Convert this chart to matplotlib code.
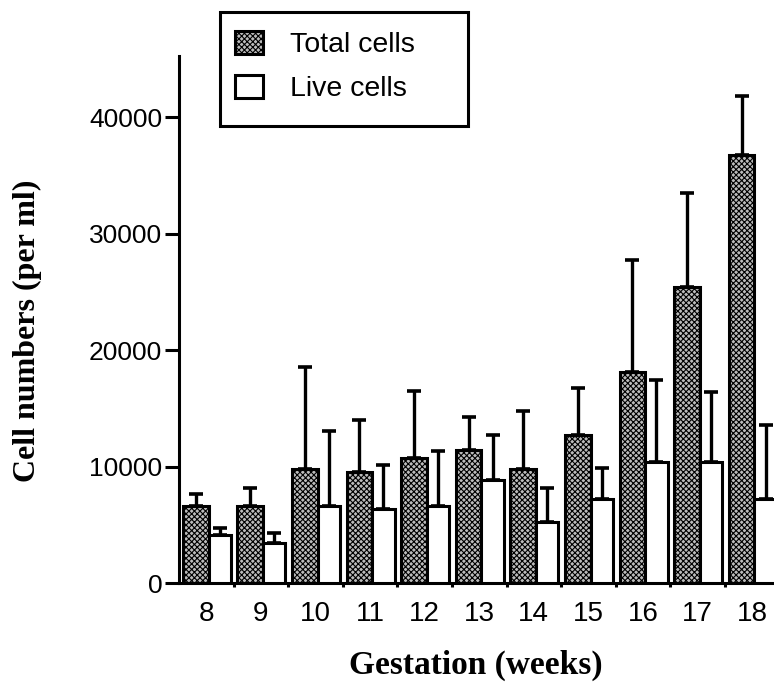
import numpy as np
import matplotlib.pyplot as plt
import matplotlib.patches as patches

# ---Data--- #
weeks = ['8', '9', '10', '11', '12', '13', '14', '15', '16', '17', '18']
total_cells = [6620, 6620, 9780, 9540, 10700, 11410, 9770, 12730, 18150, 25460, 36780]
total_err = [1070, 1550, 8740, 4450, 5810, 2810, 4980, 4000, 9590, 8060, 5030]
live_cells = [4130, 3410, 6620, 6340, 6620, 8880, 5270, 7250, 10420, 10420, 7200]
live_err = [600, 890, 6450, 3840, 4730, 3850, 2870, 2670, 6990, 6010, 6360]

plt.rcParams['hatch.linewidth'] = 0.8
sans = ['Liberation Sans', 'DejaVu Sans']
serif = ['Liberation Serif', 'DejaVu Serif']

# ---Plot--- #
fig = plt.figure(figsize=(7.74, 6.89), dpi=100)
ax = fig.add_axes([0.2313, 0.1538, 0.7687, 0.7654])

x = np.arange(len(weeks))
lw = 2.2
b1 = ax.bar(x - 0.43, total_cells, width=0.47, align='edge', facecolor='#bcbcbc',
            edgecolor='black', linewidth=lw, hatch='xxxxxx', label='Total cells', zorder=3)
b2 = ax.bar(x + 0.04, live_cells, width=0.41, align='edge', facecolor='white',
            edgecolor='black', linewidth=lw, label='Live cells', zorder=3)

# only the upper half of each error bar is drawn
zeros = np.zeros(len(weeks))
ax.errorbar(x - 0.43 + 0.235, total_cells, yerr=[zeros, total_err], fmt='none',
            ecolor='black', elinewidth=2.4, capsize=5, capthick=2.6, zorder=2)
ax.errorbar(x + 0.04 + 0.205, live_cells, yerr=[zeros, live_err], fmt='none',
            ecolor='black', elinewidth=2.4, capsize=5, capthick=2.6, zorder=2)

ax.set_xlim(-0.5, 10.40)
ax.set_ylim(0, 45300)
ax.spines['top'].set_visible(False)
ax.spines['right'].set_visible(False)
ax.spines['left'].set_linewidth(lw)
ax.spines['bottom'].set_linewidth(lw)

ax.set_yticks([0, 10000, 20000, 30000, 40000])
ax.set_yticklabels(['0', '10000', '20000', '30000', '40000'], family=sans, fontsize=19)
ax.tick_params(axis='y', direction='out', length=10, width=lw, pad=2)

ax.set_xticks(x)
ax.set_xticklabels(weeks, family=sans, fontsize=20)
ax.set_xticks(x[:-1] + 0.5, minor=True)
ax.tick_params(axis='x', which='major', length=0, pad=13)
ax.tick_params(axis='x', which='minor', direction='out', length=3, width=lw)

ax.set_ylabel('Cell numbers (per ml)', family=serif, fontweight='bold', fontsize=23)
ax.yaxis.set_label_coords(-0.230, 0.478)
ax.set_xlabel('Gestation (weeks)', family=serif, fontweight='bold', fontsize=24)
ax.xaxis.set_label_coords(0.498, -0.126)

# ---Legend--- #
fig.patches.append(patches.Rectangle((220 / 774, 1 - 126 / 689), 248 / 774, 114 / 689,
                                     transform=fig.transFigure, facecolor='white',
                                     edgecolor='black', linewidth=lw, zorder=5))
leg = fig.legend(handles=[b1, b2], loc='upper left', bbox_to_anchor=(235 / 774, 1 - 31 / 689),
                 frameon=False, prop={'family': sans, 'size': 20.5}, handlelength=0.98,
                 handleheight=0.88, handletextpad=0.95, labelspacing=0.58, borderpad=0,
                 borderaxespad=0)
leg.set_zorder(6)

plt.savefig('out.png', dpi=100)
